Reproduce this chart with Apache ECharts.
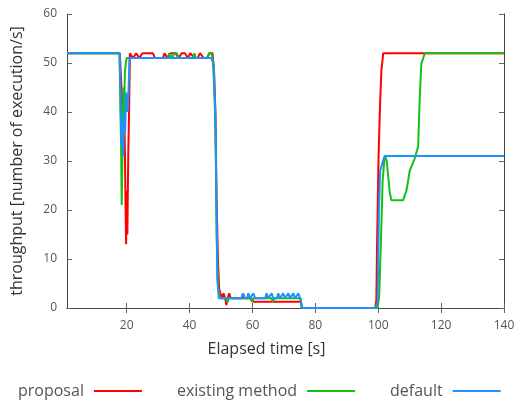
<!DOCTYPE html>
<html>
<head>
<meta charset="utf-8">
<script src="https://cdn.jsdelivr.net/npm/echarts@6/dist/echarts.min.js"></script>
<style>
  html, body { margin: 0; padding: 0; background: #fff; }
  #chart { width: 518px; height: 401px; }
</style>
</head>
<body>
<div id="chart"></div>
<script>
// Throughput over time for three scheduling strategies (breakpoints of each trace)
const proposalTime = [1, 17.8, 18.4, 18.9, 19.3, 19.6, 19.8, 20.0, 20.2, 20.5, 20.8, 21.0, 22.0, 23.0, 24.0, 25.0, 28.3, 29.0, 31.5, 32.0, 33.0, 34.0, 35.5, 36.5, 37.5, 38.5, 39.5, 40.2, 41.5, 42.5, 43.3, 44.5, 45.5, 46.3, 47.3, 47.8, 48.2, 48.6, 49.0, 49.4, 49.8, 50.3, 50.8, 51.3, 51.7, 52.1, 52.6, 53.1, 59.6, 60.2, 75.3, 75.7, 99.0, 99.4, 99.6, 100.1, 100.6, 101.0, 101.6, 140];
const proposalValue = [52, 52, 44, 34, 38, 22, 13, 24, 15, 32, 42, 52, 51, 52, 51, 52, 52, 51, 51, 52, 51, 52, 52, 51, 52, 52, 51, 52, 51, 51, 52, 51, 51, 52, 52, 48, 40, 22, 10, 4, 3, 2, 3, 2, 0.6, 2, 3, 2, 2, 1.3, 1.3, 0, 0, 1.5, 12, 31, 42, 48.5, 52, 52];

const existingTime = [1, 17.7, 18.0, 18.2, 18.4, 18.6, 18.9, 19.1, 19.4, 19.7, 20.0, 33.0, 33.5, 34.5, 35.0, 36.0, 36.5, 41.0, 41.5, 42.0, 45.5, 46.2, 47.0, 47.5, 48.2, 48.6, 49.0, 49.4, 50.0, 51.5, 52.0, 52.5, 56.5, 57.0, 57.5, 59.3, 59.8, 60.3, 66.0, 66.5, 67.0, 75.3, 75.7, 99.8, 100.3, 100.8, 101.4, 101.9, 102.2, 102.7, 103.2, 103.7, 104.2, 107.9, 109.0, 110.0, 111.6, 112.7, 113.2, 113.7, 114.8, 140];
const existingValue = [52, 52, 40, 33, 21, 30, 45, 35, 48, 50, 51, 51, 52, 51, 52, 52, 51, 51, 52, 51, 51, 52, 52, 50, 38, 15, 5, 2.5, 2, 2, 1.2, 2, 2, 3, 2, 2, 1.3, 2, 2, 1.3, 2, 2, 0, 0, 2.3, 12.5, 26, 30, 31, 30, 26.7, 23.4, 22, 22, 24, 28, 30.5, 33, 43, 49.8, 52, 52];

const defaultTime = [1, 17.7, 18.0, 18.3, 18.6, 18.9, 19.2, 19.5, 19.8, 20.3, 20.6, 20.9, 46.9, 47.6, 48.2, 48.5, 48.8, 49.3, 56.5, 57.0, 57.5, 58.2, 58.7, 59.2, 59.8, 60.3, 60.8, 64.0, 64.5, 65.0, 65.6, 66.1, 66.6, 67.7, 68.2, 68.7, 69.3, 69.8, 70.3, 70.9, 71.4, 71.9, 72.5, 73.0, 73.5, 74.1, 74.6, 75.1, 75.5, 75.9, 99.0, 99.8, 100.2, 100.6, 102.0, 140];
const defaultValue = [52, 52, 45, 33, 38, 31, 40, 36, 44, 40, 45, 51, 51, 49.8, 40, 23, 6, 2, 2, 3, 2, 2, 3, 2, 2, 3, 2, 2, 3, 2, 2, 3, 2, 2, 3, 2, 2, 3, 2, 2, 3, 2, 2, 3, 2, 2, 3, 2, 2, 0, 0, 1, 19, 28, 31, 31];

const xTicks = [20, 40, 60, 80, 100, 120, 140];
const seriesNames = ['proposal', 'existing method', 'default'];

const FONT = 'Open Sans';
const zip = (xs, ys) => xs.map((x, i) => [x, ys[i]]);

const axisCommon = {
  type: 'value',
  axisLine: { show: true, lineStyle: { color: '#444', width: 1 } },
  splitLine: { show: false }
};

const xBase = Object.assign({}, axisCommon, {
  min: 1, max: 140,
  axisTick: { show: true, inside: true, length: 5, customValues: xTicks, lineStyle: { color: '#666' } }
});
const yBase = Object.assign({}, axisCommon, {
  min: 0, max: 60, interval: 10,
  axisTick: { show: true, inside: true, length: 5, lineStyle: { color: '#666' } }
});

const chart = echarts.init(document.getElementById('chart'), null, { renderer: 'canvas' });
chart.setOption({
  animation: false,
  backgroundColor: '#fff',
  grid: { left: 67, right: 14, top: 14, bottom: 93 },
  xAxis: [
    Object.assign({}, xBase, {
      position: 'bottom',
      name: 'Elapsed time [s]',
      nameLocation: 'middle',
      nameGap: 33,
      nameTextStyle: { fontFamily: FONT, fontSize: 16, color: '#333', padding: [0, 38, 0, 0] },
      axisLabel: { show: true, customValues: xTicks, margin: 12, fontFamily: FONT, fontSize: 12, color: '#555' }
    }),
    Object.assign({}, xBase, { position: 'top', axisLabel: { show: false } })
  ],
  yAxis: [
    Object.assign({}, yBase, {
      position: 'left',
      name: 'throughput [number of execution/s]',
      nameLocation: 'middle',
      nameGap: 42,
      nameTextStyle: { fontFamily: FONT, fontSize: 16, color: '#333' },
      axisLabel: { show: true, margin: 10, fontFamily: FONT, fontSize: 12, color: '#555' }
    }),
    Object.assign({}, yBase, { position: 'right', axisLabel: { show: false } })
  ],
  legend: {
    data: seriesNames,
    left: 13, top: 378,
    align: 'right',
    icon: 'rect',
    itemWidth: 48, itemHeight: 2,
    itemGap: 35,
    textStyle: { fontFamily: FONT, fontSize: 16, color: '#555', padding: [0, 5, 0, 0] }
  },
  series: [
    { name: seriesNames[0], data: zip(proposalTime, proposalValue), color: '#ff0000' },
    { name: seriesNames[1], data: zip(existingTime, existingValue), color: '#14c014' },
    { name: seriesNames[2], data: zip(defaultTime, defaultValue), color: '#1e90ff' }
  ].map(s => Object.assign({
    type: 'line',
    showSymbol: false,
    clip: false,
    lineStyle: { width: 2 }
  }, s))
});
</script>
</body>
</html>
